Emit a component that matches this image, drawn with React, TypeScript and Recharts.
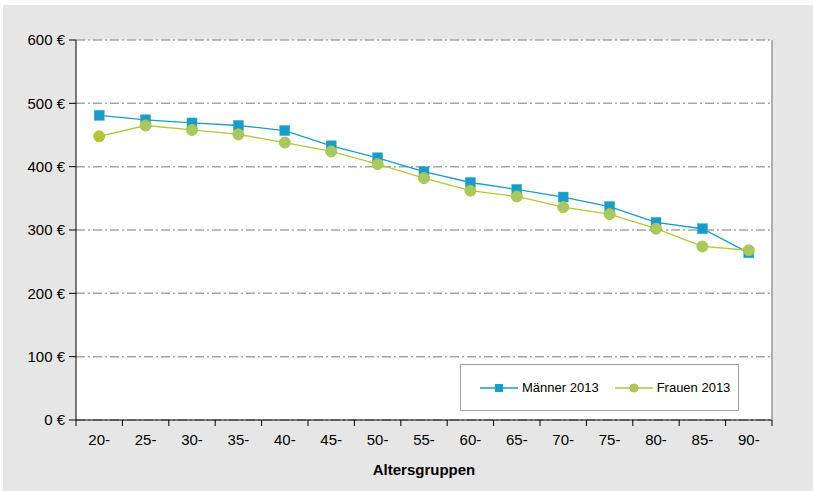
import React from "react";
import { LineChart, Line, XAxis, YAxis, CartesianGrid } from "recharts";

const categories = ["20-", "25-", "30-", "35-", "40-", "45-", "50-", "55-", "60-", "65-", "70-", "75-", "80-", "85-", "90-"];
const maenner = [481, 474, 469, 465, 457, 433, 414, 392, 375, 364, 352, 337, 312, 302, 264];
const frauen = [448, 465, 458, 451, 438, 424, 404, 382, 362, 353, 336, 325, 302, 274, 268];
const yTicks = [0, 100, 200, 300, 400, 500, 600];
const seriesNames = ["Männer 2013", "Frauen 2013"];

const data = categories.map((c, i) => ({ cat: c, m: maenner[i], f: frauen[i] }));

const FONT = "'Liberation Sans', Arial, sans-serif";
const BLUE = "#1a9ccb";
const GREEN_LINE = "#b3c736";
const GREEN_FILL = "#a8c865";

const SquareDot = (props: any) => {
  const { cx, cy, index } = props;
  if (cx == null || cy == null) return null;
  return <rect key={"s" + index} x={cx - 5} y={cy - 5} width={10} height={10} fill={BLUE} stroke="#3aaad4" strokeWidth={0.5} />;
};

const CircleDot = (props: any) => {
  const { cx, cy, index } = props;
  if (cx == null || cy == null) return null;
  return <circle key={"c" + index} cx={cx} cy={cy} r={5.5} fill={index === 0 ? "#b3c534" : GREEN_FILL} stroke={GREEN_LINE} strokeWidth={1} />;
};

const XTick = (props: any) => {
  const { x, y, payload, index, visibleTicksCount, width } = props;
  const half = payload && payload.offset ? payload.offset : width / (2 * visibleTicksCount);
  return (
    <g>
      <line x1={x - half} y1={y} x2={x - half} y2={y + 6} stroke="#000" strokeWidth={1} />
      {index === visibleTicksCount - 1 && (
        <line x1={x + half} y1={y} x2={x + half} y2={y + 6} stroke="#000" strokeWidth={1} />
      )}
      <text x={x} y={y + 25} textAnchor="middle" fontSize={15} fontFamily={FONT} fill="#000">
        {payload.value}
      </text>
    </g>
  );
};

const LegendBox = () => (
  <div
    style={{
      position: "absolute",
      left: 460,
      top: 364,
      width: 277,
      height: 45,
      border: "1px solid #a0a0a0",
      background: "#fff",
      display: "flex",
      alignItems: "center",
      fontFamily: FONT,
      fontSize: 13,
      color: "#000",
    }}
  >
    <svg width={38} height={12} style={{ marginLeft: 19 }}>
      <line x1={0} y1={6} x2={38} y2={6} stroke={BLUE} strokeWidth={1.3} />
      <rect x={15} y={2} width={8} height={8} fill={BLUE} />
    </svg>
    <span style={{ marginLeft: 4 }}>{seriesNames[0]}</span>
    <svg width={38} height={12} style={{ marginLeft: 16 }}>
      <line x1={0} y1={6} x2={38} y2={6} stroke={GREEN_LINE} strokeWidth={1.3} />
      <circle cx={19} cy={6} r={4} fill={GREEN_FILL} stroke={GREEN_LINE} />
    </svg>
    <span style={{ marginLeft: 4 }}>{seriesNames[1]}</span>
  </div>
);

export default function App() {
  return (
    <div style={{ position: "absolute", left: 0, top: 0, width: 813, height: 491, background: "#fff" }}>
      <div style={{ position: "absolute", left: 3, top: 5, width: 810, height: 486, background: "#e6e6e6" }} />
      <div style={{ position: "absolute", left: 0, top: 0 }}>
        <LineChart width={813} height={491} data={data} margin={{ top: 40, right: 40, left: 0, bottom: 21 }}>
          <CartesianGrid
            vertical={false}
            fill="#fff"
            stroke="#a6a6a6"
            strokeWidth={1.5}
            strokeDasharray="9 3 2 3"
          />
          <XAxis
            dataKey="cat"
            scale="band"
            height={50}
            axisLine={{ stroke: "#000", strokeWidth: 1 }}
            tickLine={false}
            tickSize={0}
            tickMargin={0}
            interval={0}
            tick={<XTick />}
            label={{ value: "Altersgruppen", position: "insideBottom", offset: -5, fontSize: 15, fontWeight: "bold", fontFamily: FONT, fill: "#000" }}
          />
          <YAxis
            width={76}
            domain={[0, 600]}
            ticks={yTicks}
            interval={0}
            axisLine={{ stroke: "#000", strokeWidth: 1 }}
            tickLine={{ stroke: "#000", strokeWidth: 1 }}
            tickSize={7}
            tickMargin={4}
            tickFormatter={(v: number) => `${v} €`}
            tick={{ fontSize: 15, fontFamily: FONT, fill: "#000" }}
          />
          <YAxis
            yAxisId="r"
            orientation="right"
            width={1}
            domain={[0, 600]}
            tick={false}
            tickLine={false}
            axisLine={{ stroke: "#999", strokeWidth: 1.5 }}
          />
          <Line
            dataKey="m"
            name={seriesNames[0]}
            stroke={BLUE}
            strokeWidth={1.3}
            dot={<SquareDot />}
            activeDot={false}
            isAnimationActive={false}
          />
          <Line
            dataKey="f"
            name={seriesNames[1]}
            stroke={GREEN_LINE}
            strokeWidth={1.3}
            dot={<CircleDot />}
            activeDot={false}
            isAnimationActive={false}
          />
        </LineChart>
      </div>
      <LegendBox />
    </div>
  );
}
